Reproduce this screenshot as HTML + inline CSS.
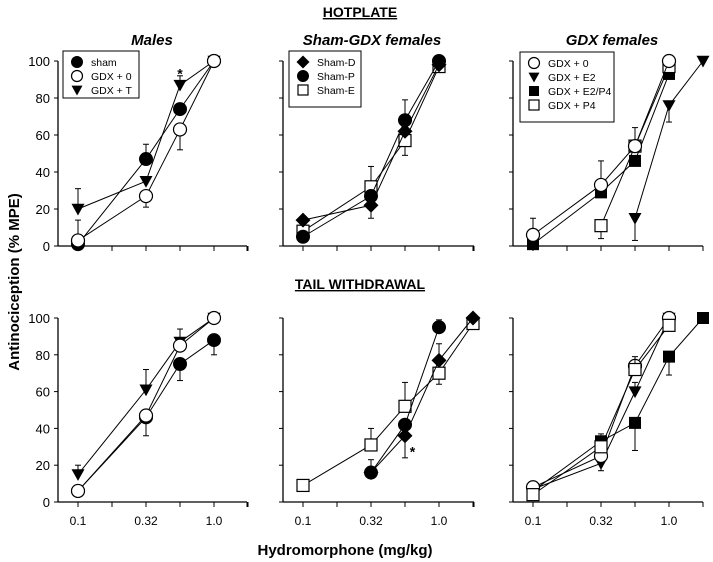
<!DOCTYPE html>
<html><head><meta charset="utf-8"><style>
body{margin:0;background:#fff}
svg{display:block;font-family:"Liberation Sans",Arial,sans-serif}
</style></head><body>
<svg id="fig" width="713" height="562" viewBox="0 0 713 562">
<text x="360" y="17" text-anchor="middle" font-size="14" font-weight="bold" text-decoration="underline">HOTPLATE</text>
<text x="360" y="289" text-anchor="middle" font-size="14" font-weight="bold" text-decoration="underline">TAIL WITHDRAWAL</text>
<text x="152" y="45" text-anchor="middle" font-size="15" font-weight="bold" font-style="italic">Males</text>
<text x="372" y="45" text-anchor="middle" font-size="15" font-weight="bold" font-style="italic">Sham-GDX females</text>
<text x="612" y="45" text-anchor="middle" font-size="15" font-weight="bold" font-style="italic">GDX females</text>
<text transform="translate(19,282) rotate(-90)" text-anchor="middle" font-size="15" font-weight="bold">Antinociception (% MPE)</text>
<text x="345" y="555" text-anchor="middle" font-size="15" font-weight="bold">Hydromorphone (mg/kg)</text>
</svg>
<script>
// dose index: 0=0.1,1=0.18,2=0.32,3=0.56,4=1.0,5=1.78
const yTicks=[0,20,40,60,80,100];
const xTickLabels=["0.1","","0.32","","1.0",""];
// Hotplate males
const hpMaleSham={x:[0,2,3,4],y:[1,47,74,100],e:[null,55,null,null]};
const hpMaleGdx0={x:[0,2,3,4],y:[3,27,63,100],e:[14,21,52,null]};
const hpMaleGdxT={x:[0,2,3,4],y:[20,35,87,100],e:[31,37,92,null]};
// Hotplate sham-GDX females
const hpShamD={x:[0,2,3,4],y:[14,22,62,98],e:[null,15,null,null]};
const hpShamP={x:[0,2,3,4],y:[5,27,68,100],e:[null,null,79,null]};
const hpShamE={x:[0,2,3,4],y:[8,32,57,97],e:[null,43,49,null]};
// Hotplate GDX females
const hpGdx0={x:[0,2,3,4],y:[6,33,54,100],e:[15,46,64,null]};
const hpGdxE2={x:[3,4,5],y:[15,76,100],e:[3,67,null]};
const hpGdxE2P4={x:[0,2,3,4],y:[1,29,46,93],e:[null,null,null,null]};
const hpGdxP4={x:[2,3,4],y:[11,54,97],e:[4,null,null]};
// Tail withdrawal males
const twMaleSham={x:[0,2,3,4],y:[6,46,75,88],e:[null,null,66,80]};
const twMaleGdx0={x:[0,2,3,4],y:[6,47,85,100],e:[null,36,null,null]};
const twMaleGdxT={x:[0,2,3,4],y:[15,61,87,100],e:[20,72,94,null]};
// Tail withdrawal sham-GDX females
const twShamD={x:[2,3,4,5],y:[16,36,77,100],e:[null,24,86,null]};
const twShamP={x:[2,3,4],y:[16,42,95],e:[23,null,99]};
const twShamE={x:[0,2,3,4,5],y:[9,31,52,70,97],e:[12,40,65,64,null]};
// Tail withdrawal GDX females
const twGdx0={x:[0,2,3,4],y:[8,25,74,100],e:[null,null,null,null]};
const twGdxE2={x:[0,2,3,4],y:[7,21,60,100],e:[null,17,65,null]};
const twGdxE2P4={x:[0,2,3,4,5],y:[6,33,43,79,100],e:[null,37,28,69,null]};
const twGdxP4={x:[0,2,3,4],y:[4,30,72,96],e:[null,null,79,null]};

const NS="http://www.w3.org/2000/svg";
const svg=document.getElementById('fig');
function el(t,a,p){const e=document.createElementNS(NS,t);for(const k in a)e.setAttribute(k,a[k]);(p||svg).appendChild(e);return e;}
const panels=[
 {name:'hp-males',x0:78,ax:58,ar:247,yTop:61,yBot:246,yl:true,xl:false,series:[['gdx-t',hpMaleGdxT,'tri'],['sham',hpMaleSham,'fcirc'],['gdx-0',hpMaleGdx0,'ocirc']],
  legend:{x:63,y:51,w:76,h:47,items:[['sham','fcirc'],['GDX + 0','ocirc'],['GDX + T','tri']]},star:[3,95]},
 {name:'hp-sham-gdx',x0:303,ax:283,ar:474,yTop:61,yBot:246,yl:false,xl:false,series:[['sham-e',hpShamE,'osq'],['sham-d',hpShamD,'dia'],['sham-p',hpShamP,'fcirc']],
  legend:{x:289,y:51,w:72,h:56,items:[['Sham-D','dia'],['Sham-P','fcirc'],['Sham-E','osq']]}},
 {name:'hp-gdx',x0:533,ax:513,ar:703,yTop:61,yBot:246,yl:false,xl:false,series:[['gdx-e2',hpGdxE2,'tri'],['gdx-e2p4',hpGdxE2P4,'fsq'],['gdx-p4',hpGdxP4,'osq'],['gdx-0',hpGdx0,'ocirc']],
  legend:{x:520,y:52,w:94,h:70,items:[['GDX + 0','ocirc'],['GDX + E2','tri'],['GDX + E2/P4','fsq'],['GDX + P4','osq']]}},
 {name:'tw-males',x0:78,ax:58,ar:247,yTop:318,yBot:502,yl:true,xl:true,series:[['sham',twMaleSham,'fcirc'],['gdx-t',twMaleGdxT,'tri'],['gdx-0',twMaleGdx0,'ocirc']]},
 {name:'tw-sham-gdx',x0:303,ax:283,ar:474,yTop:318,yBot:502,yl:false,xl:true,series:[['sham-e',twShamE,'osq'],['sham-p',twShamP,'fcirc'],['sham-d',twShamD,'dia']],star:[3.22,29]},
 {name:'tw-gdx',x0:533,ax:513,ar:703,yTop:318,yBot:502,yl:false,xl:true,series:[['gdx-e2p4',twGdxE2P4,'fsq'],['gdx-e2',twGdxE2,'tri'],['gdx-0',twGdx0,'ocirc'],['gdx-p4',twGdxP4,'osq']]}
];
const STEP=34;
function marker(g,type,cx,cy,r){
 r=r||6.5;
 if(type==='fcirc')return el('circle',{cx,cy,r,fill:'#000',stroke:'#000'},g);
 if(type==='ocirc')return el('circle',{cx,cy,r,fill:'#fff',stroke:'#000','stroke-width':1.2},g);
 if(type==='fsq')return el('rect',{x:cx-r+0.5,y:cy-r+0.5,width:2*r-1,height:2*r-1,fill:'#000'},g);
 if(type==='osq')return el('rect',{x:cx-r+0.5,y:cy-r+0.5,width:2*r-1,height:2*r-1,fill:'#fff',stroke:'#000','stroke-width':1.2},g);
 if(type==='tri')return el('path',{d:`M${cx-r} ${cy-r*0.8}L${cx+r} ${cy-r*0.8}L${cx} ${cy+r}Z`,fill:'#000'},g);
 if(type==='dia')return el('path',{d:`M${cx} ${cy-r-1}L${cx+r+1} ${cy}L${cx} ${cy+r+1}L${cx-r-1} ${cy}Z`,fill:'#000'},g);
}
panels.forEach(p=>{
 const g=el('g',{});
 
 
 const X=i=>p.x0+i*STEP, Y=v=>p.yBot-(v/100)*(p.yBot-p.yTop);
 el('line',{x1:p.ax,y1:p.yBot,x2:p.ar,y2:p.yBot,stroke:'#000','stroke-width':1.3},g);
 el('line',{x1:p.ax,y1:p.yBot,x2:p.ax,y2:p.yTop,stroke:'#000','stroke-width':1.3},g);
 yTicks.forEach(t=>{
  el('line',{x1:p.ax-4,y1:Y(t),x2:p.ax,y2:Y(t),stroke:'#000'},g);
  if(p.yl){const tx=el('text',{x:p.ax-8,y:Y(t)+5,'text-anchor':'end','font-size':13},g);tx.textContent=t;
   
   }
 });
 xTickLabels.forEach((l,i)=>{
  el('line',{x1:X(i),y1:p.yBot,x2:X(i),y2:p.yBot+5,stroke:'#000'},g);
  if(p.xl&&l){const tx=el('text',{x:X(i),y:p.yBot+23,'text-anchor':'middle','font-size':12},g);tx.textContent=l;
   
   }
 });
 el('line',{x1:p.ar,y1:p.yBot,x2:p.ar,y2:p.yBot+5,stroke:'#000'},g);
 p.series.forEach(([nm,s,type])=>{
  const sg=el('g',{},g);
  
  
  s.x.forEach((xi,k)=>{ if(s.e[k]!=null){
   el('line',{x1:X(xi),y1:Y(s.y[k]),x2:X(xi),y2:Y(s.e[k]),stroke:'#000'},sg);
   el('line',{x1:X(xi)-3,y1:Y(s.e[k]),x2:X(xi)+3,y2:Y(s.e[k]),stroke:'#000'},sg);}});
  el('polyline',{points:s.x.map((xi,k)=>X(xi)+','+Y(s.y[k])).join(' '),fill:'none',stroke:'#000','stroke-width':1},sg);
  s.x.forEach((xi,k)=>{const m=marker(sg,type,X(xi),Y(s.y[k]));
   
   });
 });
 if(p.star){const st=el('text',{x:X(p.star[0]),y:Y(p.star[1])+8,'text-anchor':'middle','font-size':14,'font-weight':'bold'},g);st.textContent='*';
  
  }
 if(p.legend){const L=p.legend;const lg=el('g',{},g);
  
  
  el('rect',{x:L.x,y:L.y,width:L.w,height:L.h,fill:'#fff',stroke:'#000'},lg);
  L.items.forEach(([lab,type],i)=>{const cy=L.y+11+i*14;
   marker(lg,type,L.x+14,cy,5.5);
   const t=el('text',{x:L.x+28,y:cy+4,'font-size':10.5},lg);t.textContent=lab;
   
   });
 }
});
</script>
</body></html>
